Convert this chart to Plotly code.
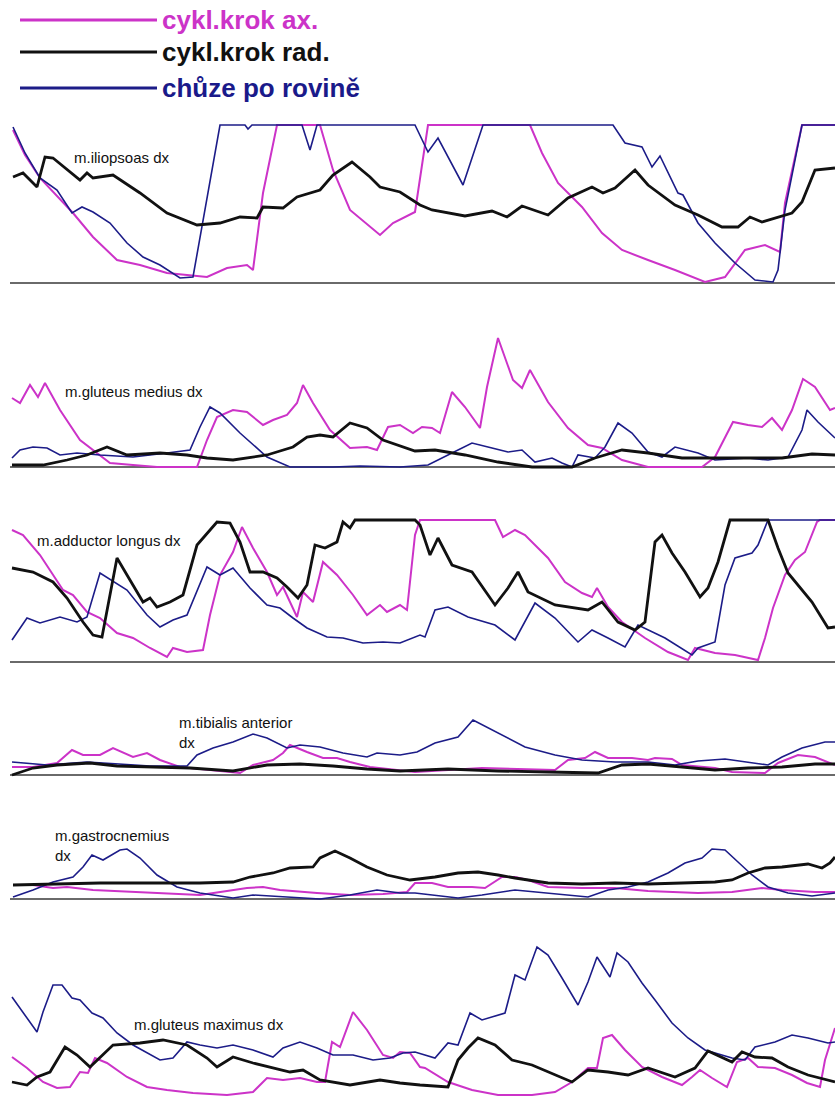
import plotly.graph_objects as go

W, H = 835, 1097

# ---------------- data (amplitude above baseline, arbitrary units) ----------------
SERIES_NAMES = ["cykl.krok ax.", "cykl.krok rad.", "chůze po rovině"]
MUSCLES = ["m.iliopsoas dx", "m.gluteus medius dx", "m.adductor longus dx",
           "m.tibialis anterior<br>dx", "m.gastrocnemius<br>dx", "m.gluteus maximus dx"]

# m.iliopsoas dx
ilio_ax_t = [13, 25, 40, 73, 93, 117, 140, 167, 187, 207, 227, 247, 253, 263, 277, 320, 333, 350, 380, 393, 415, 428,
             530, 542, 558, 582, 602, 622, 648, 675, 705, 725, 745, 765, 780, 785, 802, 835]
ilio_ax = [153, 128, 105, 70, 46, 23, 18, 10, 8, 6, 15, 18, 13, 90, 158, 158, 113, 73, 48, 60, 71, 158,
           158, 130, 100, 76, 50, 33, 23, 13, 1, 6, 33, 38, 31, 80, 158, 158]
ilio_rad_t = [13, 23, 37, 45, 53, 80, 87, 93, 113, 140, 167, 197, 220, 240, 257, 263, 283, 297, 320, 333, 352, 370,
              380, 400, 420, 432, 465, 492, 507, 522, 548, 568, 592, 603, 615, 635, 648, 675, 698, 722, 738, 750,
              762, 782, 792, 802, 815, 835]
ilio_rad = [106, 110, 96, 126, 125, 103, 110, 105, 108, 90, 70, 58, 60, 66, 65, 76, 75, 86, 93, 108, 121, 106,
            96, 91, 78, 73, 67, 72, 66, 77, 68, 85, 96, 90, 95, 113, 98, 78, 68, 56, 56, 66,
            61, 67, 70, 81, 113, 115]
ilio_walk_t = [13, 25, 40, 57, 72, 82, 93, 110, 127, 143, 160, 180, 193, 220, 245, 248, 252, 302, 310, 317, 415, 428,
               438, 463, 483, 613, 625, 642, 652, 660, 678, 683, 698, 715, 735, 755, 773, 778, 785, 802, 835]
ilio_walk = [156, 130, 105, 93, 70, 76, 71, 60, 40, 26, 18, 5, 6, 158, 158, 154, 158, 158, 133, 158, 158, 131,
             145, 98, 158, 158, 140, 136, 116, 127, 90, 88, 60, 40, 20, 3, 1, 13, 73, 158, 158]

# m.gluteus medius dx
gmed_ax_t = [12, 20, 30, 38, 45, 60, 80, 110, 133, 157, 197, 207, 217, 233, 247, 263, 273, 287, 297, 303, 313, 330,
             350, 367, 377, 388, 400, 413, 422, 432, 440, 452, 465, 480, 487, 498, 513, 522, 530, 548, 568, 588,
             602, 622, 648, 702, 715, 733, 748, 762, 772, 782, 792, 803, 815, 830, 835]
gmed_ax = [69, 64, 82, 70, 84, 57, 27, 4, 2, 0, 0, 27, 50, 57, 55, 42, 47, 52, 64, 82, 64, 37,
           19, 20, 17, 40, 42, 34, 40, 39, 34, 75, 60, 39, 80, 129, 87, 79, 97, 65, 39, 22,
           19, 7, 0, 0, 10, 45, 42, 40, 49, 37, 57, 88, 80, 57, 59]
gmed_rad_t = [12, 43, 67, 87, 107, 127, 160, 187, 207, 233, 267, 293, 307, 320, 333, 350, 367, 383, 415, 435, 465,
              498, 532, 572, 595, 622, 648, 682, 732, 782, 812, 835]
gmed_rad = [2, 2, 7, 12, 20, 12, 14, 12, 9, 7, 12, 20, 30, 32, 30, 44, 39, 27, 16, 17, 12,
            5, 0, 0, 9, 17, 14, 9, 9, 9, 13, 12]
gmed_walk_t = [12, 20, 33, 47, 60, 77, 100, 133, 167, 190, 200, 210, 220, 240, 267, 290, 333, 360, 400, 428, 452,
               472, 492, 508, 522, 535, 552, 562, 572, 578, 595, 605, 618, 632, 648, 662, 675, 698, 715, 748, 768,
               788, 802, 807, 818, 835]
gmed_walk = [9, 17, 20, 19, 12, 14, 12, 10, 14, 17, 40, 60, 54, 34, 10, 0, 0, 1, 0, 2, 14,
             24, 19, 15, 17, 5, 9, 4, 0, 12, 9, 20, 44, 34, 15, 10, 20, 14, 7, 9, 7,
             10, 37, 57, 45, 29]

# m.adductor longus dx
addl_ax_t = [12, 23, 40, 53, 63, 73, 87, 100, 117, 133, 150, 167, 173, 187, 203, 210, 220, 233, 242, 253, 267, 277,
             283, 297, 303, 313, 323, 337, 353, 367, 380, 387, 400, 407, 415, 420, 495, 503, 515, 525, 548, 565,
             582, 592, 597, 608, 622, 645, 668, 688, 695, 715, 735, 758, 765, 773, 785, 795, 805, 817, 820, 835]
addl_ax = [132, 127, 107, 87, 72, 67, 50, 44, 29, 24, 14, 5, 14, 10, 12, 47, 87, 110, 135, 114, 90, 67,
           75, 45, 70, 60, 100, 87, 67, 47, 57, 50, 57, 52, 127, 142, 142, 125, 132, 127, 104, 80,
           69, 65, 74, 55, 40, 24, 10, 2, 14, 9, 7, 2, 24, 54, 87, 102, 110, 140, 142, 142]
addl_rad_t = [12, 33, 53, 67, 83, 93, 102, 117, 127, 143, 150, 157, 170, 183, 197, 207, 217, 230, 240, 250, 263, 277,
              287, 298, 307, 315, 325, 337, 343, 350, 355, 415, 420, 430, 438, 452, 472, 495, 508, 518, 528, 555,
              588, 602, 618, 635, 645, 655, 662, 672, 685, 700, 708, 718, 730, 768, 778, 788, 812, 828, 835]
addl_rad = [94, 90, 80, 64, 40, 27, 25, 104, 87, 60, 64, 55, 60, 67, 117, 129, 140, 139, 120, 90, 90, 84,
            75, 64, 77, 117, 114, 120, 140, 134, 142, 142, 137, 107, 124, 97, 90, 57, 74, 90, 70, 57,
            52, 60, 40, 32, 40, 120, 127, 109, 90, 65, 74, 100, 142, 142, 114, 89, 60, 34, 35]
addl_walk_t = [12, 27, 40, 60, 77, 87, 100, 115, 127, 147, 160, 173, 187, 207, 220, 233, 250, 267, 280, 293, 307,
               327, 343, 363, 383, 400, 420, 425, 435, 448, 468, 495, 515, 535, 555, 578, 592, 608, 625, 638, 665,
               692, 698, 715, 725, 735, 752, 758, 768, 835]
addl_walk = [22, 44, 39, 45, 40, 45, 89, 80, 72, 47, 35, 42, 47, 95, 87, 94, 74, 57, 54, 44, 34,
             25, 24, 19, 20, 19, 27, 25, 52, 55, 45, 37, 22, 59, 44, 20, 32, 24, 15, 37, 24,
             7, 14, 20, 77, 104, 109, 117, 142, 142]

# m.tibialis anterior dx
tib_ax_t = [12, 33, 57, 72, 83, 100, 113, 133, 147, 160, 180, 207, 240, 253, 273, 283, 290, 307, 323, 337, 350, 370,
            400, 415, 482, 515, 555, 568, 585, 595, 608, 632, 648, 655, 672, 682, 715, 732, 765, 778, 798, 815, 835]
tib_ax = [8, 8, 12, 25, 20, 20, 27, 18, 22, 15, 8, 5, 2, 10, 15, 22, 30, 23, 17, 17, 13, 8,
          5, 3, 7, 6, 5, 15, 17, 23, 17, 17, 15, 17, 16, 10, 7, 3, 2, 12, 20, 18, 10]
tib_rad_t = [12, 33, 57, 90, 117, 150, 190, 233, 267, 300, 333, 367, 400, 448, 498, 548, 598, 622, 648, 682, 715,
             748, 782, 815, 835]
tib_rad = [0, 7, 10, 12, 9, 8, 7, 4, 10, 11, 9, 6, 4, 6, 4, 3, 2, 10, 11, 8, 5,
           7, 8, 11, 11]
tib_walk_t = [12, 47, 87, 117, 150, 187, 197, 213, 233, 253, 267, 287, 300, 320, 343, 367, 377, 400, 417, 435, 458,
              473, 498, 525, 555, 582, 615, 648, 675, 698, 725, 748, 768, 782, 802, 825, 835]
tib_walk = [13, 10, 13, 11, 9, 9, 20, 27, 33, 41, 37, 27, 30, 28, 22, 18, 22, 20, 23, 32, 38,
            55, 42, 28, 20, 15, 13, 13, 10, 14, 16, 13, 10, 18, 27, 33, 33]

# m.gastrocnemius dx
gast_ax_t = [13, 33, 53, 67, 93, 133, 167, 200, 227, 247, 263, 280, 317, 350, 383, 407, 415, 432, 448, 472, 485, 502,
             515, 528, 548, 582, 615, 648, 698, 732, 762, 782, 815, 835]
gast_ax = [14, 14, 11, 12, 9, 7, 6, 4, 8, 11, 12, 9, 6, 4, 5, 7, 16, 16, 12, 12, 11, 22,
           22, 19, 12, 11, 11, 8, 6, 7, 11, 9, 7, 7]
gast_rad_t = [13, 50, 100, 150, 200, 233, 250, 273, 290, 313, 320, 335, 350, 367, 387, 410, 435, 458, 478, 498, 515,
              548, 582, 615, 648, 682, 715, 732, 748, 765, 782, 808, 822, 830, 835]
gast_rad = [14, 15, 16, 16, 16, 17, 22, 26, 31, 32, 41, 48, 41, 32, 24, 19, 22, 26, 27, 24, 21,
            16, 15, 16, 15, 16, 17, 19, 26, 31, 32, 35, 31, 36, 42]
gast_walk_t = [13, 33, 53, 73, 83, 92, 103, 120, 127, 140, 157, 177, 200, 233, 253, 283, 320, 350, 377, 400, 415,
               458, 482, 515, 548, 588, 608, 628, 648, 668, 685, 702, 712, 725, 738, 752, 768, 788, 812, 835]
gast_walk = [2, 9, 17, 22, 32, 44, 39, 49, 50, 41, 24, 12, 6, 1, 4, 2, 0, 4, 9, 6, 6,
             1, 4, 9, 6, 2, 9, 12, 17, 26, 36, 41, 50, 49, 37, 24, 12, 6, 3, 6]

# m.gluteus maximus dx
gmax_ax_t = [12, 27, 43, 57, 70, 80, 88, 95, 107, 127, 147, 167, 193, 227, 253, 267, 283, 300, 317, 325, 332, 340,
             353, 367, 383, 393, 400, 410, 420, 425, 448, 472, 498, 532, 555, 572, 588, 597, 603, 612, 625, 642,
             662, 682, 692, 700, 712, 727, 737, 748, 758, 775, 792, 807, 820, 825, 835]
gmax_ax = [40, 29, 15, 9, 10, 25, 24, 39, 34, 20, 10, 7, 4, 2, 5, 19, 17, 19, 15, 15, 55, 50,
           85, 67, 42, 39, 45, 44, 30, 29, 15, 7, 2, 2, 5, 15, 29, 29, 59, 62, 47, 30,
           20, 12, 20, 27, 19, 10, 35, 39, 30, 29, 22, 14, 10, 37, 69]
gmax_rad_t = [12, 27, 37, 50, 65, 77, 90, 103, 113, 140, 163, 187, 207, 217, 233, 253, 273, 290, 303, 320, 350, 380,
              400, 420, 448, 458, 468, 478, 495, 512, 532, 555, 572, 588, 608, 628, 648, 675, 695, 708, 732, 742,
              755, 772, 788, 808, 835]
gmax_rad = [15, 12, 20, 25, 50, 42, 30, 42, 52, 54, 57, 52, 39, 30, 40, 34, 29, 25, 27, 17, 12, 17,
            14, 12, 10, 37, 49, 59, 52, 37, 32, 22, 15, 27, 25, 22, 29, 20, 29, 46, 35, 45,
            40, 39, 30, 22, 15]
gmax_walk_t = [12, 27, 37, 43, 53, 62, 72, 80, 92, 103, 117, 133, 147, 160, 173, 187, 200, 217, 233, 253, 273, 283,
               300, 317, 333, 353, 373, 390, 403, 415, 435, 448, 458, 470, 482, 505, 515, 525, 537, 548, 562, 578,
               588, 597, 610, 617, 628, 642, 655, 672, 688, 705, 732, 745, 755, 775, 792, 808, 828, 835]
gmax_walk = [100, 79, 65, 85, 112, 112, 99, 97, 84, 79, 64, 52, 44, 37, 39, 55, 52, 49, 52, 47, 40, 49,
             55, 49, 42, 42, 37, 39, 44, 45, 39, 54, 52, 84, 77, 84, 122, 117, 150, 142, 119, 92,
             115, 140, 120, 144, 135, 114, 97, 74, 59, 47, 39, 37, 50, 55, 62, 59, 54, 55]

DATA = [
    [(ilio_ax_t, ilio_ax), (ilio_rad_t, ilio_rad), (ilio_walk_t, ilio_walk)],
    [(gmed_ax_t, gmed_ax), (gmed_rad_t, gmed_rad), (gmed_walk_t, gmed_walk)],
    [(addl_ax_t, addl_ax), (addl_rad_t, addl_rad), (addl_walk_t, addl_walk)],
    [(tib_ax_t, tib_ax), (tib_rad_t, tib_rad), (tib_walk_t, tib_walk)],
    [(gast_ax_t, gast_ax), (gast_rad_t, gast_rad), (gast_walk_t, gast_walk)],
    [(gmax_ax_t, gmax_ax), (gmax_rad_t, gmax_rad), (gmax_walk_t, gmax_walk)],
]

# ---------------- layout / styling ----------------
COLORS = ["#cc33c8", "#111111", "#1c1c88"]
WIDTHS = [2.0, 2.8, 1.6]
DRAW_ORDER = [0, 2, 1]

# per panel: baseline pixel row, axis range (min, max), show baseline
PANEL_GEOM = [
    (283, -3, 162, True),
    (467, -3, 137, True),
    (662, -3, 146, True),
    (775, -3, 65, True),
    (899, -3, 69, True),
    (1097, 0, 157, False),
]
# label: left x px, center y px
LABEL_POS = [(72, 158), (63, 391), (35, 540), (177, 732), (53, 845), (132, 1024)]

fig = go.Figure()
layout = dict(
    width=W, height=H,
    margin=dict(l=0, r=0, t=0, b=0),
    paper_bgcolor="white", plot_bgcolor="rgba(0,0,0,0)",
    showlegend=False,
    xaxis=dict(domain=[10 / W, 1], range=[10, 835], visible=False, fixedrange=True),
)

for p, (base, rmin, rmax, show0) in enumerate(PANEL_GEOM):
    ax_id = "" if p == 0 else str(p + 1)
    pix_top = base - rmax
    pix_bot = base - rmin
    dom = [max(0.0, 1 - pix_bot / H), min(1.0, 1 - pix_top / H)]
    layout["yaxis" + ax_id] = dict(
        domain=dom, range=[rmin, rmax], anchor="x",
        showgrid=False, showticklabels=False, ticks="", showline=False,
        zeroline=show0, zerolinecolor="#6a6a6a", zerolinewidth=1.6, fixedrange=True,
    )
    for s in DRAW_ORDER:
        t, v = DATA[p][s]
        fig.add_trace(go.Scatter(
            x=t, y=v, mode="lines", name=SERIES_NAMES[s],
            line=dict(color=COLORS[s], width=WIDTHS[s]),
            xaxis="x", yaxis="y" + ax_id, hoverinfo="skip",
        ))

annotations = []
for p, (lx, ly) in enumerate(LABEL_POS):
    annotations.append(dict(
        xref="paper", yref="paper", x=lx / W, y=1 - ly / H,
        xanchor="left", yanchor="middle", align="left", showarrow=False,
        text=MUSCLES[p], font=dict(family="Liberation Sans, Arial", size=15, color="#111"),
    ))

# legend (manual, top-left)
LEG_Y = [20, 52, 88]
LEG_TEXT_COLORS = ["#cc33c8", "#111111", "#1a1a8a"]
shapes = []
for i, ly in enumerate(LEG_Y):
    shapes.append(dict(type="line", xref="paper", yref="paper",
                       x0=20 / W, x1=157 / W, y0=1 - ly / H, y1=1 - ly / H,
                       line=dict(color=COLORS[i], width=3)))
    annotations.append(dict(
        xref="paper", yref="paper", x=160 / W, y=1 - ly / H,
        xanchor="left", yanchor="middle", showarrow=False,
        text="<b>" + SERIES_NAMES[i] + "</b>",
        font=dict(family="Liberation Sans, Arial", size=26, color=LEG_TEXT_COLORS[i]),
    ))

layout["annotations"] = annotations
layout["shapes"] = shapes
fig.update_layout(**layout)
fig.write_html("out.html",
               config={"displayModeBar": False, "staticPlot": True},
               post_script="document.body.style.margin='0px';document.body.style.overflow='hidden';")
